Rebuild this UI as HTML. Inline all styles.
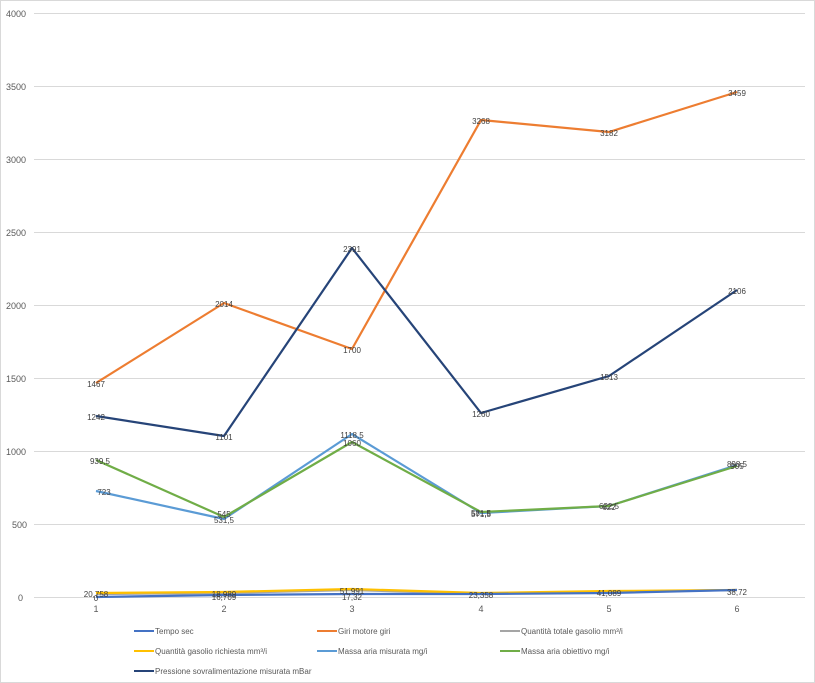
<!DOCTYPE html>
<html><head><meta charset="utf-8"><style>
body{margin:0;background:#fff}
svg{display:block;font-family:"Liberation Sans",sans-serif}
</style></head><body>
<svg width="815" height="683" viewBox="0 0 815 683">
<rect x="0.5" y="0.5" width="814" height="682" fill="#fff" stroke="#d9d9d9"/>
<g stroke="#d9d9d9" stroke-width="1">
<line x1="34" x2="805" y1="13.5" y2="13.5"/><line x1="34" x2="805" y1="86.5" y2="86.5"/>
<line x1="34" x2="805" y1="159.5" y2="159.5"/><line x1="34" x2="805" y1="232.5" y2="232.5"/>
<line x1="34" x2="805" y1="305.5" y2="305.5"/><line x1="34" x2="805" y1="378.5" y2="378.5"/>
<line x1="34" x2="805" y1="451.5" y2="451.5"/><line x1="34" x2="805" y1="524.5" y2="524.5"/>
<line x1="34" x2="805" y1="597.5" y2="597.5"/>
</g>
<g font-size="9" fill="#595959">
<text x="6" y="17">4000</text><text x="6" y="90">3500</text><text x="6" y="163">3000</text>
<text x="6" y="236">2500</text><text x="6" y="309">2000</text><text x="6" y="382">1500</text>
<text x="6" y="455">1000</text><text x="12" y="528">500</text><text x="18" y="601">0</text>
</g>
<g font-size="9" fill="#595959" text-anchor="middle">
<text x="96" y="612">1</text><text x="224" y="612">2</text><text x="352" y="612">3</text>
<text x="481" y="612">4</text><text x="609" y="612">5</text><text x="737" y="612">6</text>
</g>
<g fill="none" stroke-width="2.2" stroke-linejoin="round">
<polyline stroke="#ED7D31" points="96,383 224,303 352,349 481,120 609,132 737,92"/>
<polyline stroke="#264478" points="96,416 224,436 352,248 481,413 609,376 737,290"/>
<polyline stroke="#5B9BD5" points="96,491 224,519 352,434 481,513 609,506 737,465"/>
<polyline stroke="#70AD47" points="96,460 224,517 352,442 481,512 609,506 737,466"/>
<polyline stroke="#A5A5A5" points="96,594 224,593 352,590 481,594 609,592 737,590"/>
<polyline stroke="#FFC000" points="96,593 224,592 352,589 481,593 609,591 737,590"/>
<polyline stroke="#4472C4" points="96,597 224,595 352,594 481,594 609,593 737,590"/>
</g>
<g font-size="8" fill="#404040" text-anchor="middle">
<text x="96" y="387">1467</text><text x="224" y="307">2014</text><text x="352" y="353">1700</text>
<text x="481" y="124">3268</text><text x="609" y="136">3182</text><text x="737" y="96">3459</text>
<text x="96" y="420">1242</text><text x="224" y="440">1101</text><text x="352" y="252">2391</text>
<text x="481" y="417">1260</text><text x="609" y="380">1513</text><text x="737" y="294">2106</text>
<text x="104" y="495">723</text><text x="224" y="523">531,5</text><text x="352" y="438">1118,5</text>
<text x="481" y="517">571,5</text><text x="609" y="510">622</text><text x="737" y="469">905</text>
<text x="100" y="464">939,5</text><text x="224" y="517">545</text><text x="352" y="446">1060</text>
<text x="481" y="516">581,5</text><text x="609" y="509">622,5</text><text x="737" y="467">898,5</text>
<text x="96" y="597">20,758</text><text x="96" y="601">0</text>
<text x="224" y="597">18,989</text><text x="224" y="600">16,709</text>
<text x="352" y="594">51,991</text><text x="352" y="600">17,32</text>
<text x="481" y="598">23,358</text><text x="609" y="596">41,089</text><text x="737" y="595">38,72</text>
</g>
<g font-size="8" fill="#595959">
<line x1="134" x2="154" y1="631" y2="631" stroke="#4472C4" stroke-width="2"/><text x="155" y="634">Tempo sec</text>
<line x1="317" x2="337" y1="631" y2="631" stroke="#ED7D31" stroke-width="2"/><text x="338" y="634">Giri motore giri</text>
<line x1="500" x2="520" y1="631" y2="631" stroke="#A5A5A5" stroke-width="2"/><text x="521" y="634">Quantità totale gasolio mm³/i</text>
<line x1="134" x2="154" y1="651" y2="651" stroke="#FFC000" stroke-width="2"/><text x="155" y="654">Quantità gasolio richiesta mm³/i</text>
<line x1="317" x2="337" y1="651" y2="651" stroke="#5B9BD5" stroke-width="2"/><text x="338" y="654">Massa aria misurata mg/i</text>
<line x1="500" x2="520" y1="651" y2="651" stroke="#70AD47" stroke-width="2"/><text x="521" y="654">Massa aria obiettivo mg/i</text>
<line x1="134" x2="154" y1="671" y2="671" stroke="#264478" stroke-width="2"/><text x="155" y="674">Pressione sovralimentazione misurata mBar</text>
</g>
</svg>
</body></html>
